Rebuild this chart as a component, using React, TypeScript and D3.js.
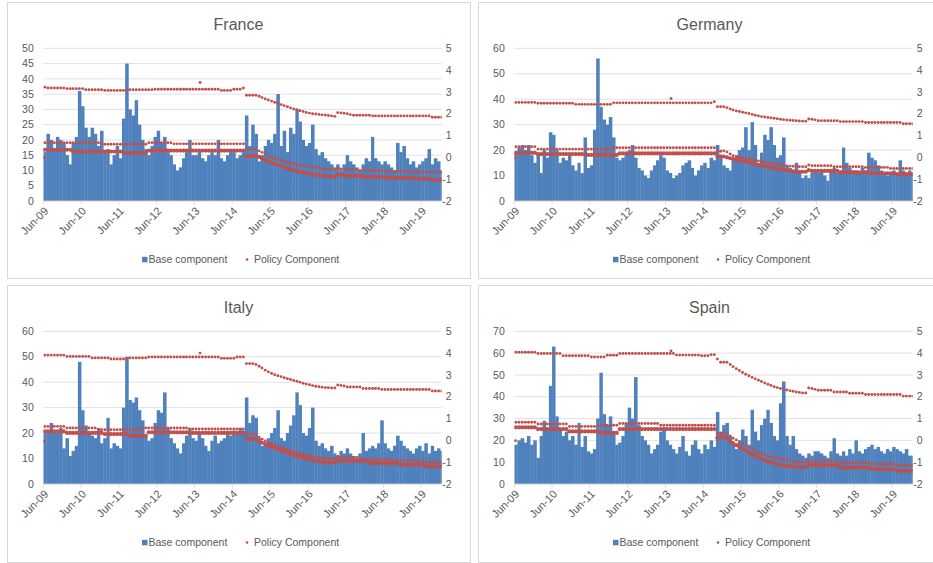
import React, { useEffect } from "react";
import * as d3 from "d3";

// ---------- categories ----------
const START = new Date(2009, 5, 1);
const END = new Date(2019, 11, 16);
const months = d3.timeMonth.range(new Date(2009, 5, 1), new Date(2020, 0, 1)); // Jun-09 .. Dec-19 (127)
const xTickYears = [2009, 2010, 2011, 2012, 2013, 2014, 2015, 2016, 2017, 2018, 2019];
const xTickLabels = ["Jun-09", "Jun-10", "Jun-11", "Jun-12", "Jun-13", "Jun-14", "Jun-15", "Jun-16", "Jun-17", "Jun-18", "Jun-19"];
const rightTicks = [-2, -1, 0, 1, 2, 3, 4, 5];

// ---------- France ----------
const franceBase = [
  16, 22, 20, 17, 21, 20, 19, 15, 12, 19, 21, 36,
  31, 24, 21, 24, 22, 18, 23, 16, 17, 12, 15, 18,
  14, 27, 45, 30, 28, 33, 25, 20, 17, 15, 18, 21,
  23, 19, 21, 16, 15, 12, 10, 11, 14, 16, 20, 15,
  15, 16, 14, 13, 15, 16, 15, 20, 14, 13, 15, 16,
  16, 14, 15, 16, 28, 18, 25, 22, 13, 15, 18, 20,
  19, 22, 35, 18, 23, 16, 24, 22, 30, 26, 20, 18,
  19, 25, 17, 15, 16, 14, 13, 12, 11, 12, 10, 12,
  15, 13, 12, 11, 10, 12, 14, 13, 21, 14, 13, 12,
  13, 12, 11, 10, 19, 16, 18, 14, 12, 13, 11, 12,
  13, 14, 17, 12, 14, 13, 10,
];
const franceTop = [
  3.22, 3.18, 3.18, 3.18, 3.18, 3.18, 3.18, 3.15, 3.15, 3.15, 3.15, 3.15,
  3.15, 3.1, 3.1, 3.1, 3.1, 3.1, 3.1, 3.07, 3.07, 3.07, 3.07, 3.07,
  3.07, 3.07, 3.07, 3.1, 3.1, 3.1, 3.1, 3.1, 3.1, 3.1, 3.1, 3.12,
  3.12, 3.12, 3.12, 3.12, 3.12, 3.12, 3.12, 3.12, 3.12, 3.12, 3.12, 3.12,
  3.12, 3.12, 3.12, 3.12, 3.12, 3.12, 3.12, 3.12, 3.07, 3.07, 3.07, 3.07,
  3.12, 3.12, 3.12, 3.18, 2.85, 2.85, 2.85, 2.85, 2.8, 2.74, 2.68, 2.63,
  2.58, 2.53, 2.48, 2.42, 2.37, 2.32, 2.27, 2.22, 2.18, 2.14, 2.1, 2.06,
  2.03, 2.0, 1.99, 1.97, 1.95, 1.94, 1.92, 1.9, 1.88, 2.05, 2.04, 2.02,
  2.0, 1.96, 1.93, 1.93, 1.93, 1.93, 1.93, 1.93, 1.9, 1.9, 1.9, 1.9,
  1.9, 1.9, 1.9, 1.9, 1.9, 1.9, 1.9, 1.9, 1.9, 1.9, 1.9, 1.9,
  1.9, 1.9, 1.9, 1.84, 1.84, 1.84, 1.84,
];
const franceMid = [
  0.67, 0.67, 0.67, 0.67, 0.67, 0.67, 0.67, 0.67, 0.67, 0.67, 0.67, 0.67,
  0.67, 0.67, 0.67, 0.67, 0.67, 0.67, 0.67, 0.6, 0.6, 0.6, 0.6, 0.6,
  0.6, 0.6, 0.6, 0.6, 0.6, 0.6, 0.6, 0.6, 0.6, 0.67, 0.67, 0.67,
  0.67, 0.67, 0.67, 0.67, 0.67, 0.62, 0.62, 0.62, 0.62, 0.62, 0.62, 0.62,
  0.62, 0.62, 0.62, 0.62, 0.62, 0.62, 0.62, 0.62, 0.62, 0.62, 0.62, 0.62,
  0.62, 0.62, 0.62, 0.62, 0.38, 0.38, 0.37, 0.34, 0.3, 0.23, 0.16, 0.08,
  0.02, -0.04, -0.1, -0.14, -0.18, -0.22, -0.26, -0.29, -0.32, -0.35, -0.38, -0.4,
  -0.42, -0.44, -0.47, -0.49, -0.51, -0.53, -0.55, -0.56, -0.57, -0.5, -0.53, -0.55,
  -0.55, -0.55, -0.55, -0.55, -0.6, -0.6, -0.6, -0.6, -0.6, -0.6, -0.6, -0.6,
  -0.6, -0.64, -0.64, -0.64, -0.64, -0.64, -0.64, -0.64, -0.64, -0.67, -0.67, -0.67,
  -0.67, -0.67, -0.67, -0.67, -0.67, -0.67, -0.67,
];
const franceLow = [
  0.35, 0.35, 0.35, 0.35, 0.35, 0.35, 0.35, 0.35, 0.35, 0.27, 0.27, 0.27,
  0.27, 0.27, 0.27, 0.27, 0.27, 0.27, 0.27, 0.27, 0.27, 0.27, 0.27, 0.27,
  0.27, 0.2, 0.2, 0.2, 0.2, 0.2, 0.2, 0.2, 0.2, 0.31, 0.31, 0.31,
  0.31, 0.31, 0.31, 0.31, 0.31, 0.31, 0.31, 0.31, 0.31, 0.31, 0.31, 0.31,
  0.31, 0.31, 0.31, 0.31, 0.31, 0.31, 0.31, 0.31, 0.31, 0.31, 0.31, 0.31,
  0.31, 0.31, 0.31, 0.31, 0.03, 0.05, 0.08, 0.06, 0.02, -0.05, -0.12, -0.18,
  -0.24, -0.3, -0.35, -0.4, -0.45, -0.5, -0.54, -0.58, -0.62, -0.66, -0.69, -0.72,
  -0.75, -0.78, -0.8, -0.82, -0.84, -0.86, -0.87, -0.88, -0.89, -0.78, -0.8, -0.82,
  -0.85, -0.85, -0.85, -0.85, -0.85, -0.9, -0.9, -0.9, -0.9, -0.9, -0.9, -0.9,
  -0.9, -0.94, -0.94, -0.94, -0.94, -0.94, -0.94, -0.94, -0.94, -0.98, -0.98, -0.98,
  -0.98, -0.98, -0.98, -1.03, -1.03, -1.03, -1.03,
];
const franceExtra: [string, number][] = [["2009-06-01", 0.0], ["2013-07-15", 3.43]];

// ---------- Germany ----------
const germanyBase = [
  19, 21, 22, 20, 22, 18, 15, 19, 11, 20, 17, 27,
  26, 20, 15, 17, 16, 18, 14, 12, 15, 11, 25, 13,
  14, 28, 56, 37, 32, 30, 33, 25, 17, 16, 17, 19,
  20, 22, 17, 13, 12, 10, 9, 12, 14, 16, 18, 17,
  12, 11, 9, 10, 11, 14, 15, 16, 13, 10, 12, 14,
  15, 13, 17, 16, 22, 18, 14, 13, 12, 16, 18, 20,
  21, 29, 20, 31, 22, 15, 19, 26, 24, 29, 22, 17,
  18, 25, 14, 13, 12, 15, 11, 9, 10, 9, 11, 12,
  11, 12, 10, 8, 12, 13, 11, 12, 21, 15, 13, 12,
  12, 11, 13, 12, 19, 17, 16, 14, 12, 11, 10, 11,
  12, 11, 16, 12, 11, 12, 11,
];
const germanyTop = [
  2.52, 2.52, 2.52, 2.52, 2.52, 2.52, 2.52, 2.48, 2.48, 2.48, 2.48, 2.48,
  2.48, 2.48, 2.48, 2.48, 2.48, 2.48, 2.48, 2.43, 2.43, 2.43, 2.43, 2.43,
  2.43, 2.43, 2.43, 2.43, 2.43, 2.43, 2.43, 2.5, 2.5, 2.5, 2.5, 2.5,
  2.5, 2.5, 2.5, 2.5, 2.5, 2.5, 2.5, 2.5, 2.5, 2.5, 2.5, 2.5,
  2.5, 2.5, 2.5, 2.5, 2.5, 2.5, 2.5, 2.5, 2.5, 2.5, 2.5, 2.5,
  2.5, 2.5, 2.5, 2.55, 2.32, 2.32, 2.32, 2.28, 2.22, 2.17, 2.13, 2.1,
  2.07, 2.04, 2.01, 1.97, 1.93, 1.9, 1.87, 1.85, 1.83, 1.81, 1.79, 1.77,
  1.75, 1.73, 1.71, 1.7, 1.69, 1.68, 1.67, 1.66, 1.66, 1.76, 1.75, 1.72,
  1.68, 1.68, 1.68, 1.68, 1.68, 1.68, 1.68, 1.64, 1.64, 1.64, 1.64, 1.64,
  1.64, 1.64, 1.64, 1.6, 1.6, 1.6, 1.6, 1.6, 1.6, 1.6, 1.6, 1.6,
  1.6, 1.6, 1.6, 1.54, 1.54, 1.54, 1.54,
];
const germanyMid = [
  0.49, 0.49, 0.49, 0.49, 0.49, 0.49, 0.49, 0.38, 0.38, 0.38, 0.38, 0.38,
  0.38, 0.38, 0.38, 0.38, 0.38, 0.38, 0.38, 0.38, 0.38, 0.38, 0.38, 0.38,
  0.38, 0.38, 0.38, 0.38, 0.38, 0.38, 0.38, 0.44, 0.44, 0.44, 0.44, 0.44,
  0.44, 0.44, 0.44, 0.44, 0.44, 0.44, 0.44, 0.44, 0.44, 0.44, 0.44, 0.44,
  0.44, 0.44, 0.44, 0.44, 0.44, 0.44, 0.44, 0.44, 0.44, 0.44, 0.44, 0.44,
  0.44, 0.44, 0.44, 0.44, 0.26, 0.28, 0.3, 0.25, 0.16, 0.08, 0.03, 0.01,
  -0.02, -0.05, -0.08, -0.1, -0.13, -0.16, -0.19, -0.21, -0.24, -0.27, -0.29, -0.32,
  -0.34, -0.37, -0.39, -0.4, -0.41, -0.42, -0.43, -0.43, -0.43, -0.35, -0.38, -0.38,
  -0.38, -0.38, -0.38, -0.38, -0.38, -0.43, -0.43, -0.43, -0.43, -0.43, -0.43, -0.43,
  -0.43, -0.43, -0.43, -0.46, -0.46, -0.46, -0.46, -0.46, -0.46, -0.46, -0.46, -0.51,
  -0.51, -0.51, -0.51, -0.51, -0.51, -0.51, -0.51,
];
const germanyLow = [
  0.21, 0.21, 0.21, 0.21, 0.21, 0.21, 0.21, 0.15, 0.15, 0.15, 0.15, 0.15,
  0.15, 0.15, 0.15, 0.15, 0.15, 0.15, 0.15, 0.15, 0.15, 0.15, 0.15, 0.11,
  0.11, 0.11, 0.11, 0.11, 0.11, 0.11, 0.11, 0.11, 0.11, 0.18, 0.18, 0.18,
  0.18, 0.18, 0.18, 0.18, 0.18, 0.18, 0.18, 0.18, 0.18, 0.18, 0.18, 0.18,
  0.18, 0.18, 0.18, 0.18, 0.18, 0.18, 0.18, 0.18, 0.18, 0.18, 0.18, 0.18,
  0.18, 0.18, 0.18, 0.18, 0.03, 0.05, 0.04, 0.0, -0.04, -0.08, -0.1, -0.13,
  -0.17, -0.2, -0.24, -0.27, -0.3, -0.34, -0.37, -0.4, -0.43, -0.46, -0.49, -0.52,
  -0.55, -0.58, -0.6, -0.62, -0.64, -0.65, -0.66, -0.66, -0.66, -0.58, -0.62, -0.62,
  -0.62, -0.62, -0.62, -0.62, -0.62, -0.62, -0.62, -0.69, -0.69, -0.69, -0.69, -0.69,
  -0.69, -0.69, -0.69, -0.69, -0.69, -0.73, -0.73, -0.73, -0.73, -0.73, -0.73, -0.73,
  -0.73, -0.77, -0.77, -0.77, -0.77, -0.77, -0.77,
];
const germanyExtra: [string, number][] = [["2009-06-01", -0.02], ["2013-07-15", 2.7]];

// ---------- Italy ----------
const italyBase = [
  20, 21, 24, 21, 20, 22, 14, 18, 11, 13, 15, 48,
  29, 23, 20, 19, 18, 22, 16, 18, 26, 14, 16, 15,
  14, 30, 50, 33, 32, 34, 29, 25, 19, 17, 18, 24,
  29, 28, 36, 22, 18, 16, 14, 12, 16, 19, 22, 18,
  17, 20, 18, 15, 13, 17, 19, 16, 17, 18, 20, 19,
  21, 20, 22, 21, 34, 24, 27, 26, 18, 15, 16, 18,
  20, 22, 29, 18, 17, 20, 23, 27, 36, 31, 20, 19,
  22, 30, 17, 15, 16, 14, 13, 15, 12, 11, 13, 12,
  14, 12, 11, 10, 12, 20, 13, 14, 15, 14, 16, 25,
  16, 14, 13, 15, 19, 17, 15, 14, 13, 12, 14, 15,
  13, 16, 12, 15, 13, 14, 13,
];
const italyTop = [
  3.91, 3.91, 3.91, 3.91, 3.91, 3.91, 3.91, 3.85, 3.85, 3.85, 3.85, 3.85,
  3.85, 3.85, 3.85, 3.78, 3.78, 3.78, 3.78, 3.78, 3.78, 3.73, 3.73, 3.73,
  3.73, 3.73, 3.73, 3.78, 3.78, 3.78, 3.78, 3.78, 3.78, 3.82, 3.82, 3.82,
  3.82, 3.82, 3.82, 3.82, 3.82, 3.82, 3.82, 3.82, 3.82, 3.82, 3.82, 3.82,
  3.82, 3.82, 3.82, 3.82, 3.82, 3.82, 3.82, 3.82, 3.76, 3.76, 3.76, 3.76,
  3.76, 3.82, 3.82, 3.82, 3.52, 3.52, 3.52, 3.48, 3.4, 3.32, 3.22, 3.14,
  3.07, 3.01, 2.96, 2.92, 2.87, 2.83, 2.79, 2.75, 2.71, 2.67, 2.62, 2.58,
  2.55, 2.51, 2.48, 2.46, 2.44, 2.42, 2.41, 2.4, 2.4, 2.54, 2.52, 2.49,
  2.45, 2.45, 2.45, 2.45, 2.45, 2.38, 2.38, 2.38, 2.38, 2.38, 2.38, 2.33,
  2.33, 2.33, 2.33, 2.33, 2.33, 2.33, 2.33, 2.33, 2.33, 2.33, 2.33, 2.33,
  2.33, 2.33, 2.33, 2.26, 2.26, 2.26, 2.26,
];
const italyMid = [
  0.64, 0.64, 0.64, 0.64, 0.64, 0.64, 0.64, 0.57, 0.57, 0.57, 0.57, 0.57,
  0.57, 0.57, 0.57, 0.57, 0.57, 0.49, 0.49, 0.49, 0.49, 0.49, 0.49, 0.49,
  0.49, 0.49, 0.49, 0.49, 0.49, 0.49, 0.49, 0.57, 0.57, 0.57, 0.57, 0.57,
  0.57, 0.57, 0.57, 0.57, 0.57, 0.57, 0.57, 0.57, 0.57, 0.57, 0.52, 0.52,
  0.52, 0.52, 0.52, 0.52, 0.52, 0.52, 0.52, 0.52, 0.52, 0.52, 0.52, 0.52,
  0.52, 0.52, 0.52, 0.52, 0.26, 0.3, 0.31, 0.25, 0.15, 0.05, -0.03, -0.09,
  -0.15, -0.21, -0.27, -0.33, -0.38, -0.43, -0.48, -0.53, -0.57, -0.6, -0.63, -0.66,
  -0.69, -0.72, -0.75, -0.78, -0.8, -0.82, -0.83, -0.84, -0.84, -0.73, -0.78, -0.78,
  -0.78, -0.78, -0.78, -0.78, -0.78, -0.88, -0.88, -0.88, -0.88, -0.88, -0.88, -0.88,
  -0.88, -0.88, -0.88, -0.93, -0.93, -0.93, -0.93, -0.93, -0.93, -0.93, -0.93, -0.93,
  -0.96, -1.0, -1.0, -1.0, -1.0, -1.0, -1.0,
];
const italyLow = [
  0.41, 0.41, 0.41, 0.41, 0.41, 0.41, 0.41, 0.34, 0.34, 0.34, 0.34, 0.34,
  0.34, 0.34, 0.34, 0.34, 0.34, 0.34, 0.34, 0.29, 0.29, 0.29, 0.29, 0.29,
  0.29, 0.29, 0.29, 0.21, 0.21, 0.21, 0.21, 0.21, 0.21, 0.37, 0.37, 0.37,
  0.37, 0.37, 0.37, 0.37, 0.37, 0.37, 0.37, 0.37, 0.37, 0.37, 0.34, 0.34,
  0.34, 0.34, 0.34, 0.34, 0.34, 0.34, 0.34, 0.34, 0.34, 0.34, 0.34, 0.34,
  0.34, 0.34, 0.34, 0.34, 0.06, 0.08, 0.07, 0.03, -0.04, -0.11, -0.17, -0.23,
  -0.29, -0.35, -0.41, -0.46, -0.52, -0.57, -0.62, -0.67, -0.72, -0.76, -0.8, -0.84,
  -0.87, -0.9, -0.93, -0.96, -0.98, -1.0, -1.01, -1.02, -1.02, -0.89, -0.95, -0.95,
  -0.95, -0.95, -0.95, -0.95, -0.95, -0.95, -0.95, -1.04, -1.04, -1.04, -1.04, -1.04,
  -1.04, -1.04, -1.04, -1.04, -1.04, -1.12, -1.12, -1.12, -1.12, -1.12, -1.12, -1.12,
  -1.12, -1.2, -1.2, -1.2, -1.2, -1.2, -1.2,
];
const italyExtra: [string, number][] = [["2009-06-01", -0.05], ["2013-07-15", 4.0]];

// ---------- Spain ----------
const spainBase = [
  18, 20, 21, 19, 22, 18, 20, 12, 22, 29, 25, 45,
  63, 31, 25, 22, 24, 20, 22, 18, 28, 17, 22, 15,
  14, 16, 30, 51, 32, 27, 31, 24, 18, 19, 22, 28,
  35, 30, 49, 27, 22, 20, 18, 14, 16, 18, 24, 26,
  20, 18, 16, 14, 17, 22, 15, 13, 18, 20, 16, 14,
  18, 16, 20, 17, 33, 24, 27, 28, 22, 18, 16, 20,
  25, 22, 18, 34, 24, 20, 27, 30, 34, 28, 22, 20,
  37, 47, 22, 18, 22, 16, 14, 13, 12, 14, 13, 15,
  15, 14, 13, 12, 15, 21, 14, 13, 15, 13, 16, 14,
  20, 15, 14, 16, 17, 18, 16, 17, 15, 14, 16, 15,
  17, 16, 15, 14, 16, 13, 13,
];
const spainTop = [
  4.04, 4.04, 4.04, 4.04, 4.04, 4.04, 4.04, 3.98, 3.98, 3.98, 3.98, 3.98,
  3.98, 3.98, 3.98, 3.88, 3.88, 3.88, 3.88, 3.88, 3.88, 3.88, 3.88, 3.88,
  3.82, 3.82, 3.82, 3.82, 3.82, 3.9, 3.9, 3.9, 3.9, 3.98, 3.98, 3.98,
  3.98, 3.98, 3.98, 3.98, 3.98, 3.98, 3.98, 3.98, 3.98, 3.98, 3.98, 3.98,
  3.98, 3.98, 3.98, 3.91, 3.91, 3.91, 3.91, 3.91, 3.91, 3.91, 3.91, 3.88,
  3.88, 3.88, 3.93, 3.93, 3.73, 3.58, 3.58, 3.58, 3.48, 3.38, 3.28, 3.2,
  3.11, 3.03, 2.96, 2.89, 2.82, 2.76, 2.7, 2.63, 2.57, 2.52, 2.46, 2.42,
  2.38, 2.34, 2.31, 2.28, 2.25, 2.22, 2.2, 2.17, 2.17, 2.4, 2.38, 2.34,
  2.3, 2.3, 2.3, 2.3, 2.3, 2.22, 2.22, 2.22, 2.22, 2.22, 2.16, 2.16,
  2.16, 2.16, 2.16, 2.1, 2.1, 2.1, 2.1, 2.1, 2.1, 2.1, 2.1, 2.1,
  2.1, 2.1, 2.1, 2.03, 2.03, 2.03, 2.03,
];
const spainMid = [
  0.83, 0.83, 0.83, 0.83, 0.83, 0.83, 0.83, 0.75, 0.75, 0.75, 0.75, 0.75,
  0.75, 0.75, 0.75, 0.75, 0.75, 0.64, 0.64, 0.64, 0.64, 0.64, 0.64, 0.64,
  0.64, 0.64, 0.64, 0.69, 0.69, 0.69, 0.69, 0.69, 0.69, 0.77, 0.77, 0.77,
  0.77, 0.77, 0.77, 0.77, 0.77, 0.77, 0.77, 0.77, 0.77, 0.77, 0.69, 0.69,
  0.69, 0.69, 0.69, 0.69, 0.69, 0.69, 0.69, 0.69, 0.69, 0.69, 0.69, 0.69,
  0.69, 0.69, 0.69, 0.69, 0.31, 0.33, 0.34, 0.3, 0.2, 0.1, 0.02, -0.07,
  -0.15, -0.24, -0.32, -0.4, -0.47, -0.54, -0.6, -0.66, -0.71, -0.75, -0.78, -0.81,
  -0.84, -0.87, -0.9, -0.93, -0.96, -0.98, -1.0, -1.01, -1.01, -0.89, -0.95, -0.95,
  -0.95, -0.95, -0.95, -0.95, -0.95, -0.95, -0.95, -1.02, -1.02, -1.02, -1.02, -1.02,
  -1.02, -1.02, -1.02, -1.02, -1.02, -1.08, -1.08, -1.08, -1.08, -1.08, -1.08, -1.08,
  -1.08, -1.14, -1.14, -1.14, -1.14, -1.14, -1.14,
];
const spainLow = [
  0.6, 0.6, 0.6, 0.6, 0.6, 0.6, 0.6, 0.52, 0.52, 0.52, 0.52, 0.52,
  0.52, 0.52, 0.52, 0.52, 0.52, 0.41, 0.41, 0.41, 0.41, 0.41, 0.41, 0.41,
  0.41, 0.41, 0.41, 0.34, 0.34, 0.34, 0.34, 0.34, 0.34, 0.52, 0.52, 0.52,
  0.52, 0.52, 0.52, 0.52, 0.52, 0.52, 0.52, 0.52, 0.52, 0.52, 0.52, 0.52,
  0.52, 0.52, 0.52, 0.52, 0.52, 0.52, 0.52, 0.52, 0.52, 0.52, 0.52, 0.52,
  0.52, 0.52, 0.52, 0.52, 0.11, 0.14, 0.15, 0.08, -0.03, -0.13, -0.22, -0.3,
  -0.39, -0.48, -0.56, -0.63, -0.7, -0.77, -0.84, -0.9, -0.96, -1.01, -1.05, -1.09,
  -1.12, -1.15, -1.17, -1.19, -1.2, -1.21, -1.22, -1.22, -1.22, -1.09, -1.15, -1.15,
  -1.15, -1.15, -1.15, -1.15, -1.15, -1.15, -1.15, -1.24, -1.24, -1.24, -1.24, -1.24,
  -1.24, -1.24, -1.24, -1.24, -1.24, -1.32, -1.32, -1.32, -1.32, -1.32, -1.32, -1.32,
  -1.32, -1.4, -1.4, -1.4, -1.4, -1.4, -1.4,
];
const spainExtra: [string, number][] = [["2009-06-01", -0.02], ["2013-07-15", 4.1]];

// ---------- styles ----------
const BLUE = "#4F81BD";
const RED = "#C0504D";
const GRID = "#D9D9D9";
const TEXT = "#595959";
const FONT = "'Liberation Sans', Arial, sans-serif";

type Spec = {
  id: string;
  title: string;
  px: number;
  py: number;
  ph: number;
  yMax: number;
  yStep: number;
  base: number[];
  top: number[];
  mid: number[];
  low: number[];
  extra: [string, number][];
};

const panels: Spec[] = [
  { id: "fr", title: "France", px: 7, py: 2, ph: 276, yMax: 50, yStep: 5, base: franceBase, top: franceTop, mid: franceMid, low: franceLow, extra: franceExtra },
  { id: "de", title: "Germany", px: 478, py: 2, ph: 276, yMax: 60, yStep: 10, base: germanyBase, top: germanyTop, mid: germanyMid, low: germanyLow, extra: germanyExtra },
  { id: "it", title: "Italy", px: 7, py: 285, ph: 277, yMax: 60, yStep: 10, base: italyBase, top: italyTop, mid: italyMid, low: italyLow, extra: italyExtra },
  { id: "es", title: "Spain", px: 478, py: 285, ph: 277, yMax: 70, yStep: 10, base: spainBase, top: spainTop, mid: spainMid, low: spainLow, extra: spainExtra },
];

function Panel({ s }: { s: Spec }) {
  const plotL = s.px + 36.3;
  const plotR = plotL + 398.4;
  const plotT = s.py + 46.3;
  const plotB = plotT + 152.7;
  const x = d3.scaleTime().domain([START, END]).range([plotL, plotR]);
  const yL = d3.scaleLinear().domain([0, s.yMax]).range([plotB, plotT]);
  const yR = d3.scaleLinear().domain([-2, 5]).range([plotB, plotT]);
  const leftTicks = d3.range(0, s.yMax + 0.001, s.yStep);
  const mid = (d: Date) => x(d3.timeDay.offset(d, 15));
  const parse = d3.timeParse("%Y-%m-%d");
  const legY = s.py + 257.5;

  return (
    <g>
      <rect x={s.px + 0.5} y={s.py + 0.5} width={463} height={s.ph} fill="#fff" stroke={GRID} strokeWidth={1} />
      <text x={s.px + 231.5} y={s.py + 27.5} textAnchor="middle" fontSize={16} fill={TEXT} fontFamily={FONT}>
        {s.title}
      </text>
      <defs>
        <clipPath id={`clip-${s.id}`}>
          <rect x={plotL} y={plotT - 10} width={plotR - plotL} height={plotB - plotT + 10} />
        </clipPath>
      </defs>
      {leftTicks.map((t) => (
        <g key={`gl${t}`}>
          <line x1={plotL} x2={plotR} y1={yL(t)} y2={yL(t)} stroke={GRID} strokeWidth={0.8} />
          <text x={plotL - 9.5} y={yL(t)} dy="0.35em" textAnchor="end" fontSize={10.5} fill={TEXT} fontFamily={FONT}>
            {t}
          </text>
        </g>
      ))}
      {rightTicks.map((t) => (
        <text key={`rt${t}`} x={plotR + 10} y={yR(t)} dy="0.35em" textAnchor="end" fontSize={10.5} fill={TEXT} fontFamily={FONT}>
          {t}
        </text>
      ))}
      <g clipPath={`url(#clip-${s.id})`}>
        {s.base.map((v, i) => {
          const x0 = x(months[i]);
          const x1 = x(d3.timeMonth.offset(months[i], 1));
          return <rect key={`b${i}`} x={x0} y={yL(v)} width={x1 - x0 + 0.35} height={plotB - yL(v)} fill={BLUE} />;
        })}
      </g>
      {xTickYears.map((yr, i) => {
        const tx = x(new Date(yr, 5, 1));
        return (
          <g key={`xt${yr}`}>
            <line x1={tx} x2={tx} y1={plotB} y2={plotB + 4} stroke={GRID} strokeWidth={0.8} />
            <text
              transform={`translate(${tx + 3},${plotB + 8}) rotate(-45)`}
              textAnchor="end"
              dy="0.35em"
              fontSize={11}
              fill={TEXT}
              fontFamily={FONT}
            >
              {xTickLabels[i]}
            </text>
          </g>
        );
      })}
      <line x1={plotL} x2={plotR} y1={plotB} y2={plotB} stroke={GRID} strokeWidth={0.8} />
      <g clipPath={`url(#clip-${s.id})`}>
        {s.low.map((v, i) => (
          <circle key={`l${i}`} cx={mid(months[i])} cy={yR(v)} r={2.1} fill={RED} />
        ))}
        {s.mid.map((v, i) => (
          <circle key={`m${i}`} cx={mid(months[i])} cy={yR(v)} r={1.45} fill={RED} />
        ))}
        {s.top.map((v, i) => (
          <circle key={`t${i}`} cx={mid(months[i])} cy={yR(v)} r={1.45} fill={RED} />
        ))}
        {s.extra.map(([d, v], i) => (
          <circle key={`e${i}`} cx={x(parse(d) as Date) + 1} cy={yR(v)} r={1.45} fill={RED} />
        ))}
      </g>
      <rect x={s.px + 135} y={legY - 2.7} width={5.5} height={5.5} fill={BLUE} />
      <text x={s.px + 141.5} y={legY} dy="0.35em" fontSize={10.5} fill={TEXT} fontFamily={FONT}>
        Base component
      </text>
      <circle cx={s.px + 240} cy={legY} r={1.3} fill={RED} />
      <text x={s.px + 247} y={legY} dy="0.35em" fontSize={10.5} fill={TEXT} fontFamily={FONT}>
        Policy Component
      </text>
    </g>
  );
}

export default function App() {
  useEffect(() => {
    document.body.style.margin = "0";
  }, []);
  return (
    <svg width={933} height={563} style={{ position: "absolute", left: 0, top: 0, display: "block", background: "#fff" }}>
      <rect x={0} y={0} width={933} height={563} fill="#fff" />
      {panels.map((p) => (
        <Panel key={p.id} s={p} />
      ))}
    </svg>
  );
}
